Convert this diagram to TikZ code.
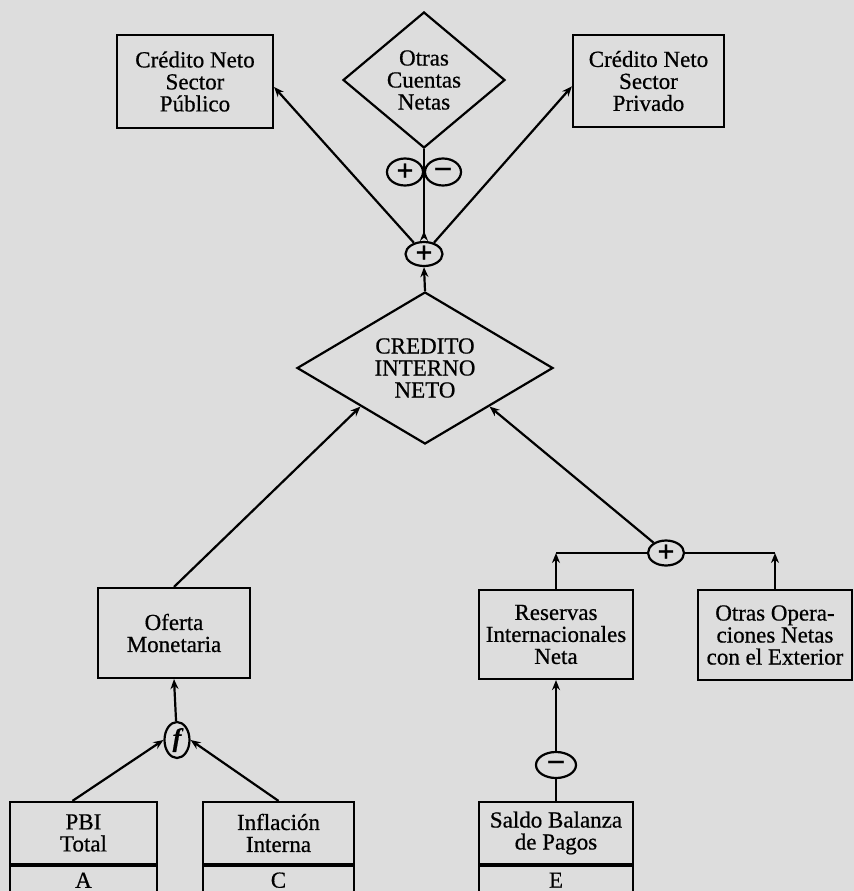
\documentclass[tikz,border=0pt]{standalone}
\usepackage{fontspec}
\setmainfont{Liberation Serif}[FakeBold=0.6]
\usetikzlibrary{arrows.meta,shapes.geometric,positioning}
\definecolor{paper}{RGB}{221,221,221}

\begin{document}
\begin{tikzpicture}[x=0.5pt, y=-0.5pt, line width=1.1pt,
    txt/.style={font={\fontsize{11.5pt}{11pt}\selectfont}, align=center},
    cellbox/.style={txt, draw, rectangle, inner sep=0pt},
    rhombbox/.style={txt, draw, diamond, inner sep=0pt},
    opnode/.style={draw, ellipse, inner sep=0pt, font={\fontsize{15pt}{15pt}\selectfont\bfseries}},
    arr/.style={-{Stealth[length=5pt, width=4pt]}},
    arrup/.style={{Stealth[length=5pt, width=4pt, reversed]}-}]
    % --- paper, fixes the page size ---
    \fill[paper] (0,0) rectangle (854,891);
    \useasboundingbox (0,0) rectangle (854,891);

    % --- top row: the three parts of the credit ---
    \node[cellbox, minimum width=78pt, minimum height=46.5pt] (pub) at (195,81.5)
      {Crédito Neto\\Sector\\Público};
    \node[rhombbox, aspect=1.2, minimum width=81pt, minimum height=68pt] (ocn) at (424,80)
      {Otras\\Cuentas\\Netas};
    \node[cellbox, minimum width=75.5pt, minimum height=46pt] (prv) at (648.5,81)
      {Crédito Neto\\Sector\\Privado};

    % signs under the middle diamond
    \node[opnode, minimum width=18pt, minimum height=13.5pt] (pls) at (405,172) {+};
    \node[opnode, minimum width=18pt, minimum height=13.5pt] (mns) at (443,172) {–};
    \node[opnode, minimum width=18.5pt, minimum height=12pt] (sum1) at (424,254) {+};

    % --- the central aggregate ---
    \node[rhombbox, aspect=1.7, minimum width=128pt, minimum height=76pt] (cin) at (425,368)
      {CREDITO\\INTERNO\\NETO};

    % --- middle row ---
    \node[cellbox, minimum width=76pt, minimum height=45pt] (ofe) at (174,633)
      {Oferta\\Monetaria};
    \node[cellbox, minimum width=77pt, minimum height=44.5pt] (res) at (556,634.5)
      {Reservas\\Internacionales\\Neta};
    \node[cellbox, minimum width=77pt, minimum height=45pt] (oth) at (775,635)
      {Otras Opera-\\ciones Netas\\con el Exterior};
    \node[opnode, minimum width=18pt, minimum height=12.5pt] (sum2) at (666,553) {+};
    \node[opnode, minimum width=20pt, minimum height=13pt] (neg) at (556,765) {–};
    \node[opnode, minimum width=12.5pt, minimum height=18pt] (fnc) at (177,740)
      {\fontsize{13pt}{13pt}\selectfont\itshape f};

    % --- bottom row: exogenous inputs, each with its letter cell ---
    \foreach \nm/\x/\w/\txt/\lt in {pbi/83.5/73.5/{PBI\\Total}/A,
        inf/278.5/75.5/{Inflación\\Interna}/C,
        sal/556/77/{Saldo Balanza\\de Pagos}/E} {
      \node[cellbox, minimum width=\w pt, minimum height=31pt] (\nm) at (\x,833) {\txt};
      \node[cellbox, minimum width=\w pt, minimum height=14pt, below=0pt of \nm] (\nm-lt) {\lt};
    }

    % --- connectors ---
    \draw[arr] (cin.north) -- (sum1.south);
    \draw[arrup] (sum1.north) -- (ocn.south);
    \draw[arr] (sum1) -- (pub.-4);
    \draw[arr] (sum1) -- (prv.184);

    \draw[arr] (ofe.north) -- (cin.south west);
    \draw[arr] (sum2) -- (cin.south east);
    \coordinate (rescorner) at (res.north |- sum2);
    \coordinate (othcorner) at (oth.north |- sum2);
    \draw (sum2.west) -- (rescorner);
    \draw (sum2.east) -- (othcorner);
    \draw[arr] (res.north) -- (rescorner);
    \draw[arr] (oth.north) -- (othcorner);

    \draw (sal.north) -- (neg);
    \draw[arr] (neg) -- (res.south);
    \draw[arr] (fnc) -- (ofe.south);
    \draw[arr] (pbi.109) -- (fnc.west);
    \draw[arr] (inf.north) -- (fnc.east);
  \end{tikzpicture}
\end{document}
